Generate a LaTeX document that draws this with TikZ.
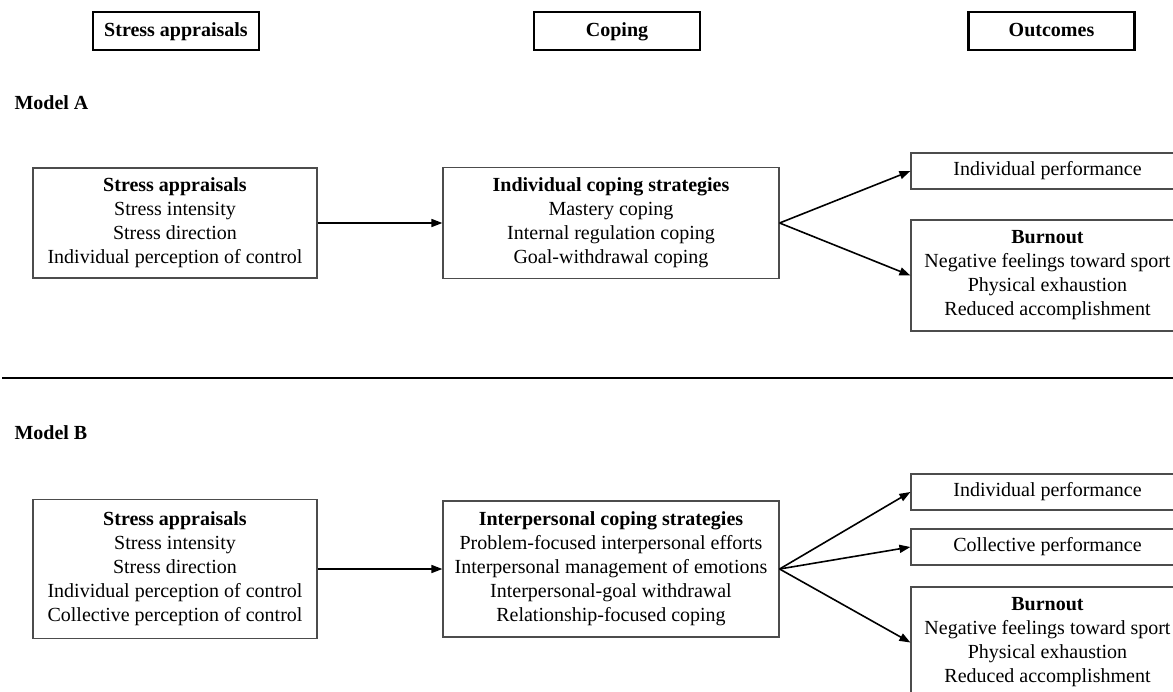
\documentclass[tikz,border=0pt]{standalone}
\usepackage{fontspec}
\setmainfont{Liberation Serif}
\usetikzlibrary{arrows.meta}

\begin{document}
\begin{tikzpicture}[x=1pt, y=-1pt,
        >={Triangle[length=11pt, width=8pt]},
        txt/.style={font=\fontsize{20}{24}\selectfont},
        btxt/.style={font=\fontsize{20}{24}\selectfont\bfseries},
        hbox/.style={btxt, draw, line width=2.4pt, minimum width=166pt, minimum height=38pt, inner sep=0pt, text height=14pt, text depth=4pt},
        mbox/.style={txt, draw=black!70, line width=1.2pt, align=center, inner sep=0pt},
        obox/.style={mbox, minimum width=273pt},
        link/.style={->, line width=1.6pt}]
        % -------- page --------
        \useasboundingbox (0,0) rectangle (1173,691);
        
        % ======== column headers ========
        \node[hbox] (hstress) at (176,31) {Stress appraisals};
        \node[hbox] (hcoping) at (617,31) {Coping};
        \node[hbox] (hout) at (1051.5,31) {Outcomes};
        
        % ======== Model A ========
        \node[btxt, anchor=west] (labA) at (11,103) {Model A};
        
        \node[mbox, minimum width=284pt, minimum height=110pt] (saA) at (175,223)
        {\textbf{Stress appraisals}\\Stress intensity\\Stress direction\\Individual perception of control};
        
        \node[mbox, minimum width=336pt, minimum height=111pt] (icA) at (611,223)
        {\textbf{Individual coping strategies}\\Mastery coping\\Internal regulation coping\\Goal-withdrawal coping};
        
        \node[obox, minimum height=36pt] (ipA) at (1047.5,171) {Individual performance};
        \node[obox, minimum height=111pt] (boA) at (1047.5,275.5)
        {\textbf{Burnout}\\Negative feelings toward sport\\Physical exhaustion\\Reduced accomplishment};
        
        % arrows
        \draw[link] (saA.east) -- (icA.west);
        \draw[link] (icA.east) -- (ipA.west);
        \draw[link] (icA.east) -- (boA.west);
        
        % ======== separator ========
        \coordinate (sepL) at (2,378);
        \coordinate (sepR) at (1173,378);
        \draw[line width=1.5pt] (sepL) -- (sepR);
        
        % ======== Model B ========
        \node[btxt, anchor=west] (labB) at (11,433) {Model B};
        
        \node[mbox, minimum width=284pt, minimum height=139pt] (saB) at (175,569)
        {\textbf{Stress appraisals}\\Stress intensity\\Stress direction\\Individual perception of control\\Collective perception of control};
        
        \node[mbox, minimum width=336pt, minimum height=136pt] (pcB) at (611,569)
        {\textbf{Interpersonal coping strategies}\\Problem-focused interpersonal efforts\\Interpersonal management of emotions\\Interpersonal-goal withdrawal\\Relationship-focused coping};
        
        \node[obox, minimum height=36pt] (ipB) at (1047.5,492) {Individual performance};
        \node[obox, minimum height=36pt] (cpB) at (1047.5,547) {Collective performance};
        \node[obox, minimum height=111pt] (boB) at (1047.5,642.5)
        {\textbf{Burnout}\\Negative feelings toward sport\\Physical exhaustion\\Reduced accomplishment};
        
        % arrows
        \draw[link] (saB.east) -- (pcB.west);
        \draw[link] (pcB.east) -- (ipB.west);
        \draw[link] (pcB.east) -- (cpB.west);
        \draw[link] (pcB.east) -- (boB.west);
        
\end{tikzpicture}
\end{document}
